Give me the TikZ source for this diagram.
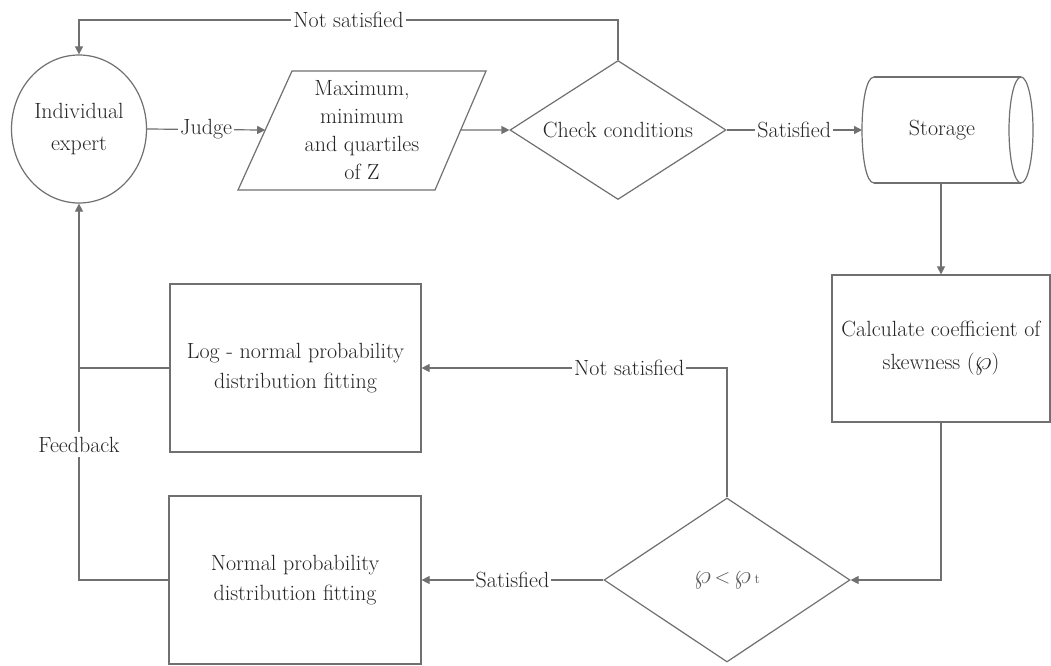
\documentclass[tikz,border=0pt]{standalone}
\usepackage{fontspec}
\usetikzlibrary{shapes.geometric,arrows.meta,calc}
\definecolor{linec}{HTML}{707070}
\definecolor{textc}{HTML}{262626}
\newcommand{\bigwp}{\scalebox{1.3}{$\wp$}}
\begin{document}
\begin{tikzpicture}[x=1pt,y=-1pt,
  every node/.style={font=\rmfamily\fontsize{22}{30}\selectfont, text=textc},
  line/.style={draw=linec, line width=1.2pt},
  arr/.style={line, -{Triangle[length=8pt,width=8pt]}},
  lab/.style={fill=white, inner xsep=2pt, inner ysep=3pt},
  box/.style={line, rectangle, align=center, inner sep=0pt},
  dec/.style={line, diamond, align=center, inner sep=0pt},
]
\useasboundingbox[fill=white] (0,0) rectangle (1051,665);

% Individual expert
\node[line, ellipse, minimum width=135, minimum height=148, inner sep=0pt, align=center, font=\rmfamily\fontsize{22}{32}\selectfont] (expert) at (79,129) {Individual\\expert};

% parallelogram
\coordinate (pA) at (292,71);
\coordinate (pB) at (486,71);
\coordinate (pC) at (435,190);
\coordinate (pD) at (238,190);
\draw[line] (pA) -- (pB) -- (pC) -- (pD) -- cycle;
\node[align=center, font=\rmfamily\fontsize{22}{28}\selectfont] (data) at (362,130) {Maximum,\\minimum\\and quartiles\\of Z};
\coordinate (pL) at ($(pD)!0.504!(pA)$);
\coordinate (pR) at ($(pC)!0.504!(pB)$);

% check conditions
\node[dec, aspect=1.55, minimum width=216, minimum height=139] (cc) at (618,130) {Check conditions};

% storage
\node (storage) at (942,130) {Storage};
\draw[line] (874,77) -- (1021,77) (874,183) -- (1021,183);
\draw[line] (874,77) .. controls (858,77) and (858,183) .. (874,183);
\draw[line] (1021,130) ellipse [x radius=12, y radius=53];
\coordinate (stW) at (862,130);
\coordinate (stS) at (941,183);

% calculate
\node[box, minimum width=218, minimum height=147, font=\rmfamily\fontsize{22}{33}\selectfont] (calc) at (941,348.5) {Calculate coefficient of\\skewness (\bigwp)};

% decision 2
\node[dec, aspect=1.5, minimum width=246, minimum height=164, text=black!65] (dd) at (727,580) {\bigwp\,$<$\,\bigwp\,{\fontsize{14}{14}\selectfont t}};

% fitting boxes
\node[box, minimum width=251, minimum height=168] (log) at (295.5,368) {Log - normal probability\\distribution fitting};
\node[box, minimum width=252, minimum height=168] (normal) at (295,580) {Normal probability\\distribution fitting};

% connectors
\draw[arr] (cc.north) -- ++(0,-40) -| node[lab,pos=0.25]{Not satisfied} (expert.north);
\draw[arr] (expert.east) -- node[lab]{Judge} (pL);
\draw[arr] (pR) -- (cc.west);
\draw[arr] (cc.east) -- node[lab]{Satisfied} (stW);
\draw[arr] (stS) -- (calc.north);
\draw[arr] (calc.south) |- (dd.east);
\draw[arr] (dd.north) |- node[lab,pos=0.66]{Not satisfied} (log.east);
\draw[arr] (dd.west) -- node[lab]{Satisfied} (normal.east);
\draw[arr] (normal.west) -| node[lab,pos=0.68,inner ysep=5pt]{Feedback} (expert.south);
\draw[line] (log.west) -- (log.west -| expert.south);
\end{tikzpicture}
\end{document}
